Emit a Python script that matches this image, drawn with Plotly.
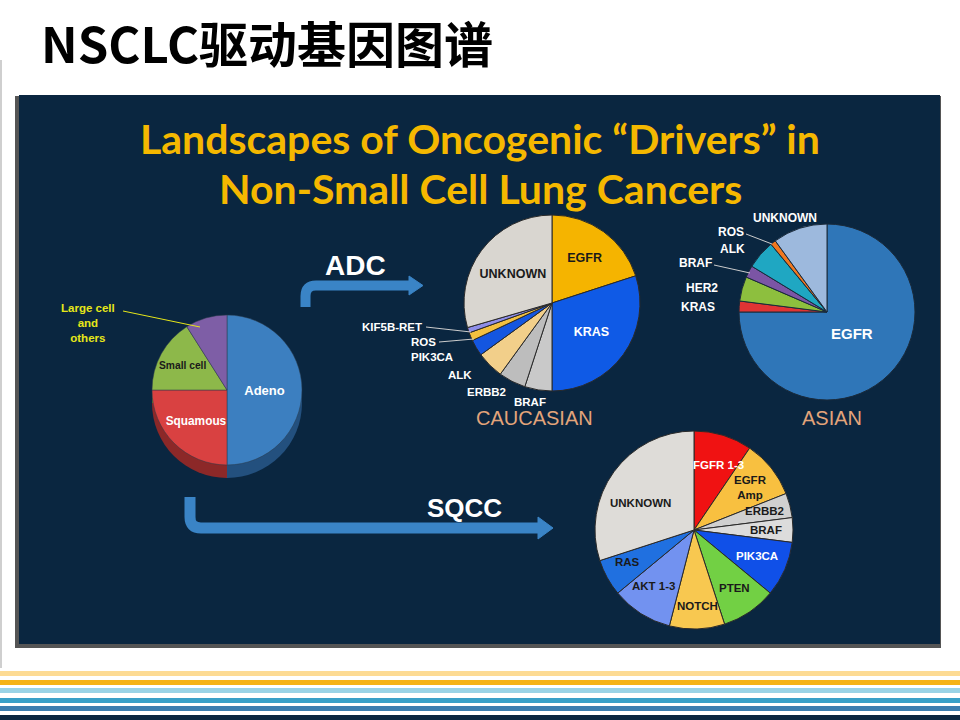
import plotly.graph_objects as go

W, H = 960, 720

# ---------------- data ----------------
hist_labels = ["Adeno", "Squamous", "Small cell", "Large cell and others"]
hist_values = [50, 25, 16, 9]

cau_labels = ["EGFR", "KRAS", "BRAF", "ERBB2", "ALK", "PIK3CA", "ROS", "KIF5B-RET", "UNKNOWN"]
cau_values = [20, 30, 5, 5, 5, 3, 1.5, 1, 29.5]

asian_labels = ["EGFR", "KRAS", "HER2", "BRAF", "ALK", "ROS", "UNKNOWN"]
asian_values = [75, 2, 4.5, 2.2, 5.3, 1, 10]

sqcc_labels = ["FGFR 1-3", "EGFR Amp", "ERBB2", "BRAF", "PIK3CA", "PTEN", "NOTCH", "AKT 1-3", "RAS", "UNKNOWN"]
sqcc_values = [9.5, 9.5, 4, 4, 9, 9, 9, 10, 6, 30]

# ---------------- styles ----------------
hist_colors = ["#3C7FC0", "#D94141", "#8DB84A", "#7E5EA6"]
hist_side = ["#23507E", "#8C2828", "#5A7A2C", "#4E3A6C"]
cau_colors = ["#F5B400", "#0F5AE6", "#C9C9C9", "#BDBDBD", "#F2CF8A", "#1456E0", "#F2C040", "#8E8EE8", "#D9D6D0"]
asian_colors = ["#2F76B8", "#E03434", "#8DBF3E", "#7B55A5", "#1FA7C2", "#F07820", "#9DB9DD"]
sqcc_colors = ["#F01212", "#F8C040", "#D0D0D0", "#DCDCDC", "#1050E8", "#72D044", "#F8C850", "#7292F0", "#2070E0", "#DEDCD8"]

NAVY = "#0A2640"
SANS = "Liberation Sans"
DARK = "#1a1a1a"


def dom(cx, cy, r):
    return dict(x=[(cx - r) / W, (cx + r) / W], y=[1 - (cy + r) / H, 1 - (cy - r) / H])


def pie_text(labels, inside):
    return [lab if lab in inside else "" for lab in labels]


fig = go.Figure()
fig.add_trace(go.Scatter(x=[0], y=[0], mode="markers", marker=dict(opacity=0),
                         hoverinfo="skip", showlegend=False))

common = dict(sort=False, direction="clockwise", rotation=0, hoverinfo="skip",
              showlegend=False, textinfo="text", textposition="inside",
              insidetextorientation="horizontal")

# histology pie (side + top)
fig.add_trace(go.Pie(values=hist_values, labels=hist_labels, marker=dict(colors=hist_side),
                     text=[""] * 4, domain=dom(227, 403, 75), **common))
fig.add_trace(go.Pie(values=hist_values, labels=hist_labels,
                     marker=dict(colors=hist_colors, line=dict(color="#2a3a4a", width=0.5)),
                     text=pie_text(hist_labels, ["Adeno", "Squamous", "Small cell"]),
                     textfont=dict(family=SANS, size=13, weight="bold",
                                   color=["white", "white", DARK, "white"]),
                     domain=dom(227, 390, 75), **common))

# caucasian
fig.add_trace(go.Pie(values=cau_values, labels=cau_labels,
                     marker=dict(colors=cau_colors, line=dict(color="#2a2a2a", width=1)),
                     text=pie_text(cau_labels, ["EGFR", "KRAS", "UNKNOWN"]),
                     textfont=dict(family=SANS, size=12.5, weight="bold",
                                   color=[DARK, "white"] + [DARK] * 7),
                     domain=dom(552, 303, 88), **common))

# asian
fig.add_trace(go.Pie(values=asian_values, labels=asian_labels,
                     marker=dict(colors=asian_colors, line=dict(color="#1a2a3a", width=1)),
                     text=[""] * len(asian_labels),
                     domain=dom(827, 312, 88), **common))

# sqcc
fig.add_trace(go.Pie(values=sqcc_values, labels=sqcc_labels,
                     marker=dict(colors=sqcc_colors, line=dict(color="#2a2a2a", width=1)),
                     text=[""] * len(sqcc_labels),
                     domain=dom(694, 530, 99), **common))

# ---------------- shapes ----------------
shapes = []
shapes.append(dict(type="line", x0=1, x1=1, y0=60, y1=668, line=dict(color="#CFCFCF", width=2), layer="below"))
shapes.append(dict(type="rect", x0=15, x1=941, y0=96, y1=648, fillcolor="#555555", line=dict(width=0), layer="below"))
shapes.append(dict(type="rect", x0=19, x1=940, y0=95, y1=644, fillcolor=NAVY, line=dict(width=0), layer="below"))
for y0, y1, c in [(671, 676, "#FDDB94"), (680, 685, "#F5B317"), (688, 693, "#9AD3E6"),
                  (698, 703, "#39A0C8"), (706, 711, "#3C7EB0"), (715, 720, NAVY)]:
    shapes.append(dict(type="rect", x0=0, x1=960, y0=y0, y1=y1, fillcolor=c, line=dict(width=0), layer="below"))

ARROW = "#3A84C6"
shapes.append(dict(type="path", path="M 305.5,307 L 305.5,296 Q 305.5,285.5 316,285.5 L 412,285.5",
                   line=dict(color=ARROW, width=10), layer="above"))
shapes.append(dict(type="path", path="M 409,276 L 423,285.5 L 409,295 Z",
                   fillcolor=ARROW, line=dict(color=ARROW, width=1), layer="above"))
shapes.append(dict(type="path", path="M 190,497 L 190,517 Q 190,528 201,528 L 541,528",
                   line=dict(color=ARROW, width=11), layer="above"))
shapes.append(dict(type="path", path="M 538,517 L 553,528 L 538,539 Z",
                   fillcolor=ARROW, line=dict(color=ARROW, width=1), layer="above"))

# leader lines
for (x0, y0, x1, y1, c) in [(123, 311, 200, 327, "#E6E619"),
                            (426, 327, 471, 332, "#CCCCCC"),
                            (439, 342, 474, 339, "#CCCCCC"),
                            (746, 234, 772, 244, "#CCCCCC"),
                            (714, 265, 750, 273, "#CCCCCC")]:
    shapes.append(dict(type="line", x0=x0, y0=y0, x1=x1, y1=y1, line=dict(color=c, width=1), layer="above"))

# ---------------- annotations ----------------
ann = []


def txt(x, y, s, size, color="white", family=SANS, bold=True, xanchor="center"):
    ann.append(dict(x=x, y=y, xref="x", yref="y", text=s, showarrow=False, xanchor=xanchor,
                    yanchor="middle", font=dict(family=family, size=size, color=color,
                                                weight="bold" if bold else "normal")))


txt(39, 41, "NSCLC驱动基因图谱", 49, "black", "Noto Sans CJK SC", True, "left")
txt(480, 138.5, "Landscapes of Oncogenic “Drivers” in", 41, "#F5B800", "Lato")
txt(480, 188, "Non-Small Cell Lung Cancers", 41, "#F5B800", "Lato")
txt(355, 265, "ADC", 28)
txt(464, 508, "SQCC", 26)
txt(534, 418, "CAUCASIAN", 20, "#E3A47A", bold=False)
txt(832, 418, "ASIAN", 20, "#E3A47A", bold=False)
ann.append(dict(x=88, y=323, xref="x", yref="y", text="Large cell<br>and<br>others", showarrow=False,
                xanchor="center", yanchor="middle",
                font=dict(family=SANS, size=11.5, color="#E6E619", weight="bold")))

# caucasian small-slice labels
for x, y, s in [(392, 327, "KIF5B-RET"), (423, 342, "ROS"), (432, 357, "PIK3CA"),
                (460, 375, "ALK"), (486, 392, "ERBB2"), (530, 402, "BRAF")]:
    txt(x, y, s, 11.5)
# asian labels
for x, y, s in [(785, 218, "UNKNOWN"), (731, 232, "ROS"), (732, 249, "ALK"),
                (695, 263, "BRAF"), (702, 288, "HER2"), (698, 307, "KRAS")]:
    txt(x, y, s, 12)
txt(852, 333, "EGFR", 15)
# sqcc labels
for x, y, s, c in [(718, 465, "FGFR 1-3", "white"), (750, 487, "EGFR<br>Amp", DARK),
                   (764, 511, "ERBB2", DARK), (766, 530, "BRAF", DARK),
                   (757, 556, "PIK3CA", "white"), (734, 588, "PTEN", DARK),
                   (697, 606, "NOTCH", DARK), (653, 586, "AKT 1-3", DARK),
                   (627, 562, "RAS", DARK), (640, 503, "UNKNOWN", DARK)]:
    txt(x, y, s, 11.5, c)

fig.update_layout(
    width=W, height=H, autosize=False,
    margin=dict(l=0, r=0, t=0, b=0),
    paper_bgcolor="white", plot_bgcolor="rgba(0,0,0,0)",
    xaxis=dict(range=[0, W], visible=False, fixedrange=True, domain=[0, 1]),
    yaxis=dict(range=[H, 0], visible=False, fixedrange=True, domain=[0, 1]),
    shapes=shapes, annotations=ann, showlegend=False,
)

fig.write_html("out.html", config={"displayModeBar": False},
               post_script="document.body.style.margin='0';document.body.style.padding='0';"
                           "document.body.style.overflow='hidden';")
